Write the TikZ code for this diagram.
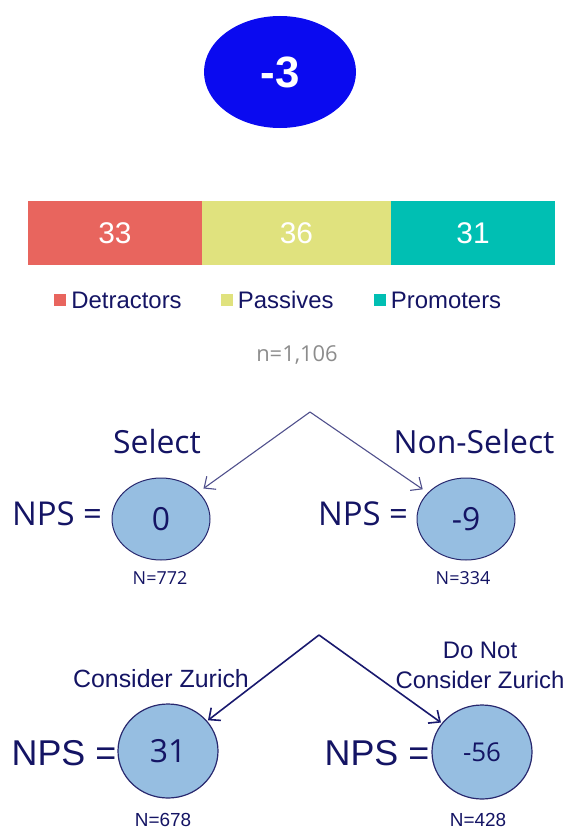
\documentclass[tikz,border=0pt]{standalone}
\usepackage{fontspec}
\setmainfont{Liberation Sans}
\newfontfamily\frut{Open Sans}
\usetikzlibrary{shapes.geometric,positioning,arrows.meta}

\definecolor{npsblue}{RGB}{10,10,240}
\definecolor{detred}{RGB}{232,101,94}
\definecolor{pasyellow}{RGB}{224,226,126}
\definecolor{proteal}{RGB}{0,191,179}
\definecolor{navy}{RGB}{20,20,100}
\definecolor{bubble}{RGB}{150,190,225}
\definecolor{bubbleline}{RGB}{40,40,110}
\definecolor{slate}{RGB}{80,80,140}
\definecolor{darknavy}{RGB}{25,25,110}
\definecolor{lightgray}{RGB}{140,140,140}

\begin{document}
\begin{tikzpicture}[x=1bp,y=-1bp]
      \useasboundingbox (0,0) rectangle (569,832);

      % Score
      \node (score) [ellipse,fill=npsblue,minimum width=152bp,minimum height=112bp,inner sep=0pt,
        text=white,font=\bfseries\fontsize{44}{48}\selectfont] at (280,72) {-3};

      % Bar
      \begin{scope}[every node/.style={rectangle,inner sep=0pt,minimum height=64bp,text=white,
          font=\fontsize{30}{34}\selectfont}]
        \node (b1) [fill=detred,minimum width=174bp] at (115,233) {33};
        \node (b2) [fill=pasyellow,minimum width=189bp] at (296.5,233) {36};
        \node (b3) [fill=proteal,minimum width=164bp] at (473,233) {31};
      \end{scope}

      % Legend
      \begin{scope}[every node/.style={inner sep=0pt,text=navy,font=\fontsize{24}{28}\selectfont}]
        \node (k1) [fill=detred,minimum size=12bp] at (60,300) {};
        \node (k2) [fill=pasyellow,minimum size=12bp] at (226.5,300) {};
        \node (k3) [fill=proteal,minimum size=12bp] at (379.5,300) {};
        \node (l1) [right=5bp of k1] {Detractors};
        \node (l2) [right=5bp of k2] {Passives};
        \node (l3) [right=5bp of k3] {Promoters};
      \end{scope}
      \node (n) [text=lightgray,font=\frut\fontsize{22}{26}\selectfont] at (297,355) {n=1,106};

      % Nodes
      \begin{scope}[every node/.style={text=navy,font=\frut\fontsize{32}{36}\selectfont}]
        \coordinate (t1) at (310,412);
        \node (sel) [ellipse,draw=bubbleline,line width=1bp,fill=bubble,minimum width=98bp,minimum height=82bp,inner sep=0pt] at (161,519) {0};
        \node (non) [ellipse,draw=bubbleline,line width=1bp,fill=bubble,minimum width=98bp,minimum height=82bp,inner sep=0pt] at (466,519) {-9};
        \node (sellab) at (157,442) {Select};
        \node (nonlab) at (474,442) {Non-Select};
        \node (selnps) [font=\frut\fontsize{33}{36}\selectfont] at (57,514) {NPS =};
        \node (nonnps) [font=\frut\fontsize{33}{36}\selectfont] at (363,514) {NPS =};
        \node (seln) [font=\frut\fontsize{18}{20}\selectfont] at (160,578) {N=772};
        \node (nonn) [font=\frut\fontsize{18}{20}\selectfont] at (463,578) {N=334};
      \end{scope}

      \begin{scope}[every node/.style={text=navy,font=\fontsize{25}{28}\selectfont}]
        \coordinate (t2) at (319,635);
        \node (con) [ellipse,draw=bubbleline,line width=1.2bp,fill=bubble,minimum width=100bp,minimum height=94bp,inner sep=0pt,
          font=\frut\fontsize{32}{36}\selectfont] at (168,751) {31};
        \node (dnc) [ellipse,draw=bubbleline,line width=1.2bp,fill=bubble,minimum width=100bp,minimum height=94bp,inner sep=0pt,
          font=\frut\fontsize{26}{30}\selectfont] at (482,752) {-56};
        \node (conlab) at (161,679) {Consider Zurich};
        \node (dnclab) [align=center,font=\fontsize{24}{30}\selectfont] at (480,665) {Do Not\\Consider Zurich};
        \node (connps) [font=\fontsize{36}{40}\selectfont] at (64,753) {NPS =};
        \node (dncnps) [font=\fontsize{36}{40}\selectfont] at (377,753) {NPS =};
        \node (conn) [font=\fontsize{19}{22}\selectfont] at (163,820) {N=678};
        \node (dncn) [font=\fontsize{19}{22}\selectfont] at (478,820) {N=428};
      \end{scope}

      % Edges
      \begin{scope}[every edge/.style={draw,-{Straight Barb[length=9bp,width=16bp]}}]
        \path (t1) edge[slate,line width=1.1bp,shorten >=6bp] (sel);
        \path (t1) edge[slate,line width=1.1bp,shorten >=6bp] (non);
        \path (t2) edge[darknavy,line width=1.6bp,shorten >=1bp] (con);
        \path (t2) edge[darknavy,line width=1.6bp,shorten >=1bp] (dnc);
      \end{scope}

    \end{tikzpicture}
\end{document}
